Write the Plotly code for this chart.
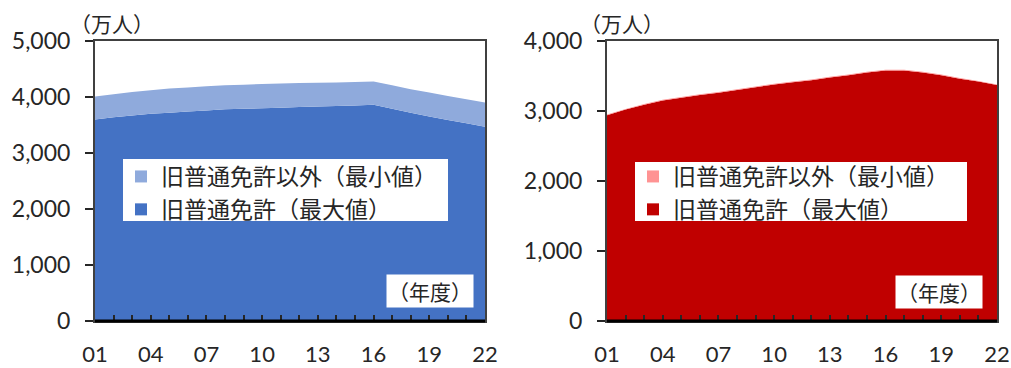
import plotly.graph_objects as go

years = list(range(1, 23))
year_labels = ["01", "04", "07", "10", "13", "16", "19", "22"]

# Left chart (万人): 旧普通免許（最大値） and 旧普通免許以外（最小値）
blue_max = [3600, 3640, 3670, 3700, 3720, 3740, 3760, 3780, 3790, 3800, 3810,
            3820, 3830, 3840, 3850, 3860, 3790, 3720, 3650, 3590, 3530, 3470]
blue_min = [410, 410, 420, 420, 430, 430, 430, 430, 430, 430, 430,
            430, 425, 420, 420, 415, 420, 420, 430, 430, 430, 430]

# Right chart (万人)
red_max = [2940, 3020, 3090, 3150, 3190, 3230, 3260, 3300, 3340, 3380, 3410,
           3440, 3480, 3510, 3550, 3580, 3580, 3550, 3510, 3460, 3420, 3370]
red_min = [10, 10, 10, 10, 10, 10, 10, 10, 10, 10, 10,
           10, 10, 10, 10, 10, 10, 10, 10, 10, 10, 10]

name_min = "旧普通免許以外（最小値）"
name_max = "旧普通免許（最大値）"

C_BLUE, C_LBLUE = "#4472C4", "#8FAADC"
C_RED, C_PINK = "#C00000", "#FF9393"

JP = "Noto Sans CJK JP"
NUM = "Lato"
TXT = "#262626"

fig = go.Figure()

def add_pair(xa, ya, vmax, vmin, cmax, cmin, grp, leg):
    fig.add_trace(go.Scatter(x=years, y=vmax, stackgroup=grp, mode="none",
                             fillcolor=cmax, xaxis=xa, yaxis=ya, showlegend=False,
                             hoverinfo="skip"))
    fig.add_trace(go.Scatter(x=years, y=vmin, stackgroup=grp, mode="none",
                             fillcolor=cmin, xaxis=xa, yaxis=ya, showlegend=False,
                             hoverinfo="skip"))
    # legend entries
    fig.add_trace(go.Scatter(x=[None], y=[None], mode="markers", name=name_min,
                             marker=dict(symbol="square", size=12, color=cmin),
                             xaxis=xa, yaxis=ya, legend=leg))
    fig.add_trace(go.Scatter(x=[None], y=[None], mode="markers", name=name_max,
                             marker=dict(symbol="square", size=12, color=cmax),
                             xaxis=xa, yaxis=ya, legend=leg))

add_pair("x", "y", blue_max, blue_min, C_BLUE, C_LBLUE, "a", "legend")
add_pair("x2", "y2", red_max, red_min, C_RED, C_PINK, "b", "legend2")

ticktext = [f"{y:02d}" if f"{y:02d}" in year_labels else "" for y in years]

xcommon = dict(range=[1, 22], tickvals=years, ticktext=ticktext, ticks="inside",
               ticklen=6, tickwidth=1.5, tickcolor="#262626", showgrid=False,
               zeroline=False, showline=True, linecolor="#404040", linewidth=2,
               mirror=True, tickfont=dict(family=NUM, size=22, color=TXT),
               ticklabelstandoff=13, automargin=False, fixedrange=True)
ycommon = dict(ticks="outside", ticklen=8, tickwidth=1.5, tickcolor="#262626",
               showgrid=False, zeroline=False, showline=True, linecolor="#404040",
               linewidth=2, mirror=True, tickformat=",d", automargin=False,
               tickfont=dict(family=NUM, size=23, color=TXT), ticklabelstandoff=10)

W, H = 1011, 368
l, r, t, b = 95, 14, 41, 47
pw = W - l - r
ph = H - t - b
d1 = (485 - l) / pw
d2 = (607 - l) / pw

def px_x(x):
    return (x - l) / pw

def px_y(y):
    return 1 - (y - t) / ph

legcommon = dict(xanchor="left", yanchor="top", bgcolor="rgba(0,0,0,0)",
                 borderwidth=0, font=dict(family=JP, size=23, color=TXT),
                 tracegroupgap=0, itemsizing="trace", indentation=1,
                 traceorder="normal")

fig.update_layout(
    width=W, height=H, margin=dict(l=l, r=r, t=t, b=b, autoexpand=False),
    paper_bgcolor="white", plot_bgcolor="white",
    xaxis=dict(domain=[0, d1], anchor="y", **xcommon),
    xaxis2=dict(domain=[d2, 1], anchor="y2", **xcommon),
    yaxis=dict(domain=[0, 1], anchor="x", range=[0, 5000], dtick=1000, **ycommon),
    yaxis2=dict(domain=[0, 1], anchor="x2", range=[0, 4000], dtick=1000, **ycommon),
    legend=dict(x=px_x(120), y=px_y(155), **legcommon),
    legend2=dict(x=px_x(632), y=px_y(155), **legcommon),
    showlegend=True,
)

# white legend panels
for x0, x1, y0, y1 in [(123, 448, 159, 221), (635, 967, 162, 221)]:
    fig.add_shape(type="rect", xref="paper", yref="paper",
                  x0=px_x(x0), x1=px_x(x1), y0=px_y(y1), y1=px_y(y0),
                  fillcolor="white", line=dict(width=0), layer="above")

annots = [
    dict(text="（万人）", x=px_x(112), y=px_y(23), xanchor="center", yanchor="middle"),
    dict(text="（万人）", x=px_x(622), y=px_y(23), xanchor="center", yanchor="middle"),
    dict(text="（年度）", x=px_x(430), y=px_y(291), xanchor="center",
         yanchor="middle", bgcolor="white", borderpad=1),
    dict(text="（年度）", x=px_x(939), y=px_y(292), xanchor="center",
         yanchor="middle", bgcolor="white", borderpad=1),
]
for a in annots:
    a.update(xref="paper", yref="paper", showarrow=False,
             font=dict(family=JP, size=21, color=TXT))
    fig.add_annotation(**a)

# thicker bottom axis lines
for xd, yd in [("x domain", "y domain"), ("x2 domain", "y2 domain")]:
    fig.add_shape(type="line", xref=xd, yref=yd, x0=0, x1=1, y0=0, y1=0,
                  line=dict(color="black", width=3))

fig.write_html("out.html")
